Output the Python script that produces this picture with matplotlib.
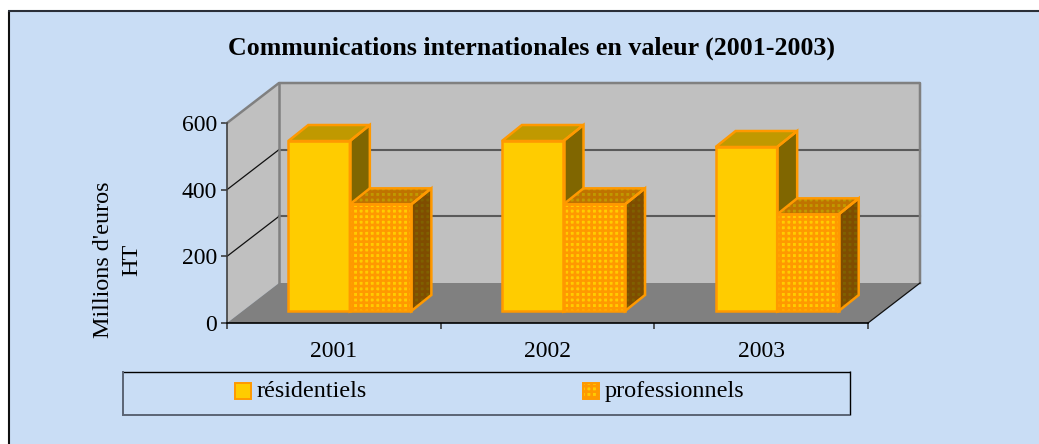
import matplotlib
matplotlib.use("Agg")
import matplotlib.pyplot as plt
from matplotlib.lines import Line2D
from matplotlib.patches import Polygon, Rectangle

years = ["2001", "2002", "2003"]
residentiels = [510, 510, 492]
professionnels = [320, 320, 290]
series_names = ["résidentiels", "professionnels"]
y_ticks = [0, 200, 400, 600]

W, H = 1039, 444
BG = "#C9DDF5"
plt.rcParams["font.family"] = ["Liberation Serif", "DejaVu Serif"]
plt.rcParams["hatch.linewidth"] = 1.9

fig = plt.figure(figsize=(W / 100, H / 100), dpi=100, facecolor="white")


def fx(px):
    return px / W


def fy(py):
    return 1 - py / H


def fig_line(xs, ys, color, lw):
    fig.add_artist(Line2D([fx(x) for x in xs], [fy(y) for y in ys],
                          color=color, lw=lw, solid_capstyle="butt"))


# outer frame, runs off the right and bottom of the picture
fig.add_artist(Rectangle((fx(8.5), 0), 1 - fx(8.5), fy(11.5), facecolor=BG,
                         edgecolor="none", transform=fig.transFigure, zorder=-1))
fig_line([8.5, 8.5], [11, H], "#101010", 1.5)
fig_line([8, W], [11.5, 11.5], "#2a2f38", 1.5)

# front plane of the 3D box
ax = fig.add_axes([fx(227), fy(323), fx(641), 200 / H])
ax.set_xlim(0, 3)
ax.set_ylim(0, 600)
ax.patch.set_visible(False)
for side in ["top", "right"]:
    ax.spines[side].set_visible(False)
ax.spines["left"].set_color("#404040")
ax.spines["left"].set_linewidth(1.2)
ax.spines["bottom"].set_color("black")
ax.spines["bottom"].set_linewidth(1.2)
ax.spines["left"].set_zorder(6)
ax.spines["bottom"].set_zorder(6)

PX_X = 3 / 641   # data units per pixel
PX_Y = 600 / 200
BOX_DX, BOX_DY = 52 * PX_X, 40 * PX_Y
BAR_DX, BAR_DY = 20 * PX_X, 16 * PX_Y
OFF_DX, OFF_DY = 16 * PX_X, 12 * PX_Y  # bars stand inside the floor
BAR_W = 0.288


def poly(pts, face, edge="none", lw=0, z=1, hatch=None):
    p = Polygon(pts, closed=True, facecolor=face, edgecolor=edge, lw=lw,
                zorder=z, hatch=hatch, clip_on=False, joinstyle="miter")
    ax.add_patch(p)


# walls and floor
poly([(0, 0), (BOX_DX, BOX_DY), (BOX_DX, 600 + BOX_DY), (0, 600)], "#C0C0C0")
poly([(BOX_DX, BOX_DY), (3 + BOX_DX, BOX_DY), (3 + BOX_DX, 600 + BOX_DY),
      (BOX_DX, 600 + BOX_DY)], "#C0C0C0")
poly([(0, 0), (3, 0), (3 + BOX_DX, BOX_DY), (BOX_DX, BOX_DY)], "#808080")

for v in y_ticks[1:-1]:
    ax.plot([BOX_DX, 3 + BOX_DX], [v + BOX_DY] * 2, color="#5a5a5a", lw=1.5,
            zorder=2, clip_on=False)
    ax.plot([0, BOX_DX], [v, v + BOX_DY], color="#101010", lw=0.9, zorder=2,
            clip_on=False)
ax.plot([0, BOX_DX, 3 + BOX_DX, 3 + BOX_DX], [600, 600 + BOX_DY, 600 + BOX_DY, BOX_DY],
        color="#808080", lw=1.8, zorder=2, clip_on=False)
ax.plot([BOX_DX, BOX_DX], [BOX_DY, 600 + BOX_DY], color="#808080", lw=1.8, zorder=2,
        clip_on=False)
ax.plot([3, 3 + BOX_DX], [0, BOX_DY], color="#101010", lw=0.9, zorder=2, clip_on=False)


def bar3d(x0, v, z, front, side, top, hatches=None):
    x = x0 + OFF_DX
    x1 = x + BAR_W
    base = OFF_DY
    h_front, h_side, h_top = hatches if hatches else ("none", "none", "none")
    pts_f = [(x, base), (x1, base), (x1, base + v), (x, base + v)]
    pts_s = [(x1, base), (x1 + BAR_DX, base + BAR_DY), (x1 + BAR_DX, base + v + BAR_DY),
             (x1, base + v)]
    pts_t = [(x, base + v), (x1, base + v), (x1 + BAR_DX, base + v + BAR_DY),
             (x + BAR_DX, base + v + BAR_DY)]
    for pts, col, hc in ((pts_s, side, h_side), (pts_t, top, h_top), (pts_f, front, h_front)):
        if hatches:
            poly(pts, col, edge=hc, lw=0, z=z, hatch="+++")
        else:
            poly(pts, col, z=z)
        poly(pts, "none", edge="#FF9900", lw=1.8, z=z + 0.1)


for i in range(len(years)):
    bar3d(i + 0.5 - BAR_W, residentiels[i], 3, "#FFCC00", "#806600", "#C09900")
    bar3d(i + 0.5, professionnels[i], 4, "#FFCC00", "#7F6000", "#C09900",
          hatches=("#FF9900", "#7F4D00", "#BF7300"))

ax.set_yticks(y_ticks)
ax.set_xticks(range(4))
ax.set_xticklabels([])
ax.set_xticks([i + 0.5 for i in range(3)], years, minor=True)
ax.tick_params(axis="y", length=4, width=1.1, color="#303030", labelsize=17, pad=3)
ax.tick_params(axis="x", which="major", length=4.5, width=1.1, color="#303030")
ax.tick_params(axis="x", which="minor", length=0, labelsize=17, pad=13)

fig.text(fx(532), fy(48), "Communications internationales en valeur (2001-2003)",
         ha="center", va="center", fontsize=18.6, fontweight="bold", color="black")
fig.text(fx(118), fy(260), "Millions d'euros\nHT", rotation=90, ha="center",
         va="center", ma="center", fontsize=17.4, color="black", linespacing=1.45)

# legend box
fig_line([123, 850], [371.5, 371.5], "black", 1.0)
fig_line([849.5, 849.5], [371, 415], "black", 1.0)
fig_line([123, 123], [371, 415], "#5a6474", 1.4)
fig_line([122, 850], [414.5, 414.5], "#5a6474", 1.4)

for px, name, hatched in ((234.5, series_names[0], False), (582.5, series_names[1], True)):
    fig.add_artist(Rectangle((fx(px), fy(399)), 16 / W, 16 / H, facecolor="#FFCC00",
                             edgecolor="#FF9900", lw=1.4, transform=fig.transFigure,
                             hatch="+++" if hatched else None))
    fig.text(fx(px + 22.5), fy(391), name, ha="left", va="center", fontsize=17.4,
             color="black")

fig.savefig("out.png", dpi=100)
